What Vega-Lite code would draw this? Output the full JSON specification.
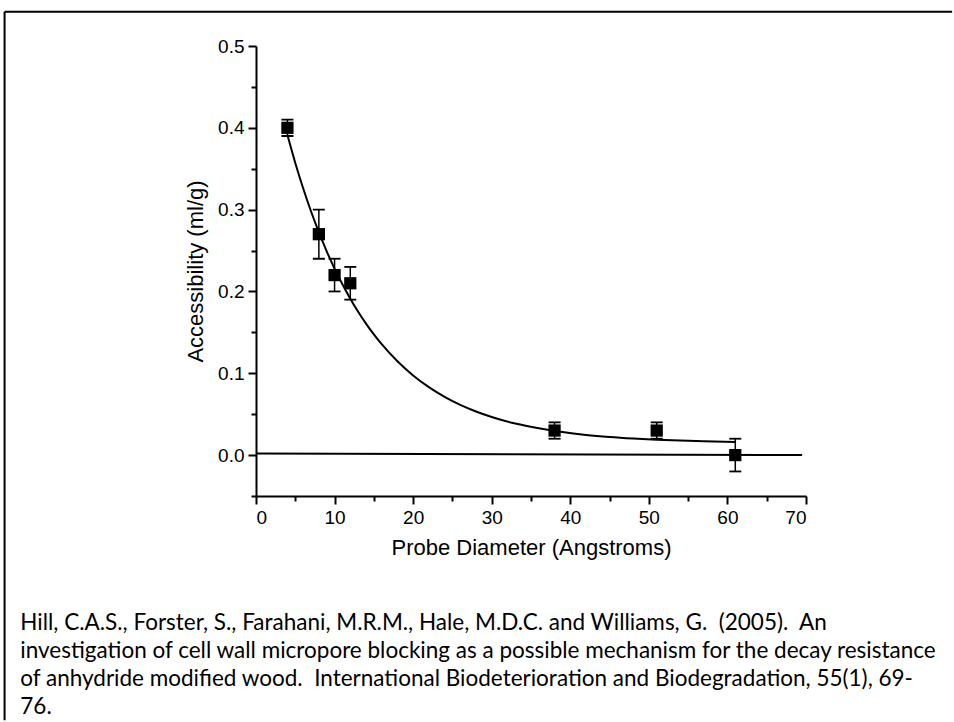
{
  "$schema": "https://vega.github.io/schema/vega-lite/v6.json",
  "width": 550,
  "height": 450,
  "autosize": {"type": "none"},
  "padding": {"left": 256, "top": 46, "right": 148, "bottom": 226},
  "background": "white",
  "config": {
    "view": {"stroke": null},
    "axis": {
      "grid": false,
      "domainColor": "black",
      "tickColor": "black",
      "labelColor": "black",
      "titleColor": "black",
      "labelFont": "Liberation Sans",
      "titleFont": "Liberation Sans",
      "labelFontSize": 19,
      "titleFontSize": 22,
      "titleFontWeight": "normal",
      "domainWidth": 2,
      "tickWidth": 2
    }
  },
  "datasets": {
    "pts": [
      {"d": 4, "acc": 0.40, "lo": 0.39, "hi": 0.41},
      {"d": 8, "acc": 0.27, "lo": 0.24, "hi": 0.30},
      {"d": 10, "acc": 0.22, "lo": 0.20, "hi": 0.24},
      {"d": 12, "acc": 0.21, "lo": 0.19, "hi": 0.23},
      {"d": 38, "acc": 0.03, "lo": 0.02, "hi": 0.04},
      {"d": 51, "acc": 0.03, "lo": 0.02, "hi": 0.04},
      {"d": 61, "acc": 0.00, "lo": -0.02, "hi": 0.02}
    ],
    "curve": [
      {"d": 4, "acc": 0.3912}, {"d": 5, "acc": 0.3571}, {"d": 6, "acc": 0.3262},
      {"d": 7, "acc": 0.2980}, {"d": 8, "acc": 0.2724}, {"d": 9, "acc": 0.2491},
      {"d": 10, "acc": 0.2279}, {"d": 11, "acc": 0.2087}, {"d": 12, "acc": 0.1911},
      {"d": 13, "acc": 0.1752}, {"d": 14, "acc": 0.1607}, {"d": 15, "acc": 0.1475},
      {"d": 16, "acc": 0.1355}, {"d": 18, "acc": 0.1146}, {"d": 20, "acc": 0.0973},
      {"d": 22, "acc": 0.0830}, {"d": 24, "acc": 0.0712}, {"d": 26, "acc": 0.0614},
      {"d": 28, "acc": 0.0533}, {"d": 30, "acc": 0.0466}, {"d": 33, "acc": 0.0386},
      {"d": 36, "acc": 0.0327}, {"d": 39, "acc": 0.0281}, {"d": 42, "acc": 0.0247},
      {"d": 45, "acc": 0.0222}, {"d": 48, "acc": 0.0203}, {"d": 51, "acc": 0.0188},
      {"d": 54, "acc": 0.0177}, {"d": 57, "acc": 0.0169}, {"d": 61, "acc": 0.0161}
    ],
    "base": [
      {"d": 0, "acc": 0.002},
      {"d": 69.5, "acc": 0.0}
    ],
    "note": [
      {"key": "citation"}
    ]
  },
  "layer": [
    {
      "data": {"name": "note"},
      "mark": {"type": "rule", "color": "black", "strokeWidth": 2},
      "encoding": {
        "x": {"datum": -32, "type": "quantitative", "scale": {"domain": [0, 70], "nice": false, "zero": false}, "axis": null},
        "x2": {"datum": 88.6},
        "y": {"datum": 0.5418, "type": "quantitative", "scale": {"domain": [-0.05, 0.5], "nice": false, "zero": false}, "axis": null}
      }
    },
    {
      "data": {"name": "note"},
      "mark": {"type": "rule", "color": "black", "strokeWidth": 2},
      "encoding": {
        "x": {"datum": -32, "type": "quantitative", "scale": {"domain": [0, 70], "nice": false, "zero": false}, "axis": null},
        "y": {"datum": 0.5418, "type": "quantitative", "scale": {"domain": [-0.05, 0.5], "nice": false, "zero": false}, "axis": null},
        "y2": {"datum": -0.324}
      }
    },
    {
      "data": {"name": "base"},
      "mark": {"type": "line", "color": "black", "strokeWidth": 2},
      "encoding": {
        "x": {"field": "d", "type": "quantitative", "scale": {"domain": [0, 70], "nice": false, "zero": false}, "axis": null},
        "y": {"field": "acc", "type": "quantitative", "scale": {"domain": [-0.05, 0.5], "nice": false, "zero": false}, "axis": null}
      }
    },
    {
      "data": {"name": "curve"},
      "mark": {"type": "line", "color": "black", "strokeWidth": 2, "interpolate": "monotone"},
      "encoding": {
        "x": {"field": "d", "type": "quantitative", "scale": {"domain": [0, 70], "nice": false, "zero": false}, "axis": null},
        "y": {"field": "acc", "type": "quantitative", "scale": {"domain": [-0.05, 0.5], "nice": false, "zero": false}, "axis": null}
      }
    },
    {
      "data": {"name": "pts"},
      "mark": {"type": "rule", "color": "black", "strokeWidth": 1.5},
      "encoding": {
        "x": {"field": "d", "type": "quantitative", "scale": {"domain": [0, 70], "nice": false, "zero": false}, "axis": null},
        "y": {"field": "lo", "type": "quantitative", "scale": {"domain": [-0.05, 0.5], "nice": false, "zero": false}, "axis": null},
        "y2": {"field": "hi"}
      }
    },
    {
      "data": {"name": "pts"},
      "mark": {"type": "tick", "orient": "horizontal", "size": 12, "thickness": 1.8, "color": "black", "opacity": 1},
      "encoding": {
        "x": {"field": "d", "type": "quantitative", "scale": {"domain": [0, 70], "nice": false, "zero": false}, "axis": null},
        "y": {"field": "lo", "type": "quantitative", "scale": {"domain": [-0.05, 0.5], "nice": false, "zero": false}, "axis": null}
      }
    },
    {
      "data": {"name": "pts"},
      "mark": {"type": "tick", "orient": "horizontal", "size": 12, "thickness": 1.8, "color": "black", "opacity": 1},
      "encoding": {
        "x": {"field": "d", "type": "quantitative", "scale": {"domain": [0, 70], "nice": false, "zero": false},
          "axis": {"orient": "bottom", "values": [5, 15, 25, 35, 45, 55, 65], "labels": false, "domain": false, "tickSize": 5, "title": null}},
        "y": {"field": "hi", "type": "quantitative", "scale": {"domain": [-0.05, 0.5], "nice": false, "zero": false},
          "axis": {"orient": "left", "values": [-0.05, 0.05, 0.15, 0.25, 0.35, 0.45], "labels": false, "domain": false, "tickSize": 5, "title": null}}
      }
    },
    {
      "data": {"name": "pts"},
      "mark": {"type": "point", "shape": "square", "filled": true, "size": 150, "color": "black", "opacity": 1},
      "encoding": {
        "x": {"field": "d", "type": "quantitative", "scale": {"domain": [0, 70], "nice": false, "zero": false},
          "axis": {"orient": "bottom", "values": [0, 10, 20, 30, 40, 50, 60, 70], "tickSize": 8, "labelPadding": 4, "title": "Probe Diameter (Angstroms)", "titlePadding": 10}},
        "y": {"field": "acc", "type": "quantitative", "scale": {"domain": [-0.05, 0.5], "nice": false, "zero": false},
          "axis": {"orient": "left", "values": [0, 0.1, 0.2, 0.3, 0.4, 0.5], "format": ".1f", "tickSize": 8, "labelPadding": 4, "title": "Accessibility (ml/g)", "titlePadding": 10}}
      }
    },
    {
      "data": {"name": "note"},
      "mark": {
        "type": "text",
        "align": "left",
        "baseline": "alphabetic",
        "font": "Lato",
        "fontSize": 22.5,
        "lineHeight": 28,
        "color": "black",
        "text": [
          "Hill, C.A.S., Forster, S., Farahani, M.R.M., Hale, M.D.C. and Williams, G.\u00a0 (2005).\u00a0 An",
          "investigation of cell wall micropore blocking as a possible mechanism for the decay resistance",
          "of anhydride modified wood.\u00a0 International Biodeterioration and Biodegradation, 55(1), 69-",
          "76."
        ]
      },
      "encoding": {
        "x": {"datum": -30, "type": "quantitative", "scale": {"domain": [0, 70], "nice": false, "zero": false}, "axis": null},
        "y": {"datum": -0.2138, "type": "quantitative", "scale": {"domain": [-0.05, 0.5], "nice": false, "zero": false}, "axis": null}
      }
    }
  ],
  "resolve": {"axis": {"x": "independent", "y": "independent"}}
}
